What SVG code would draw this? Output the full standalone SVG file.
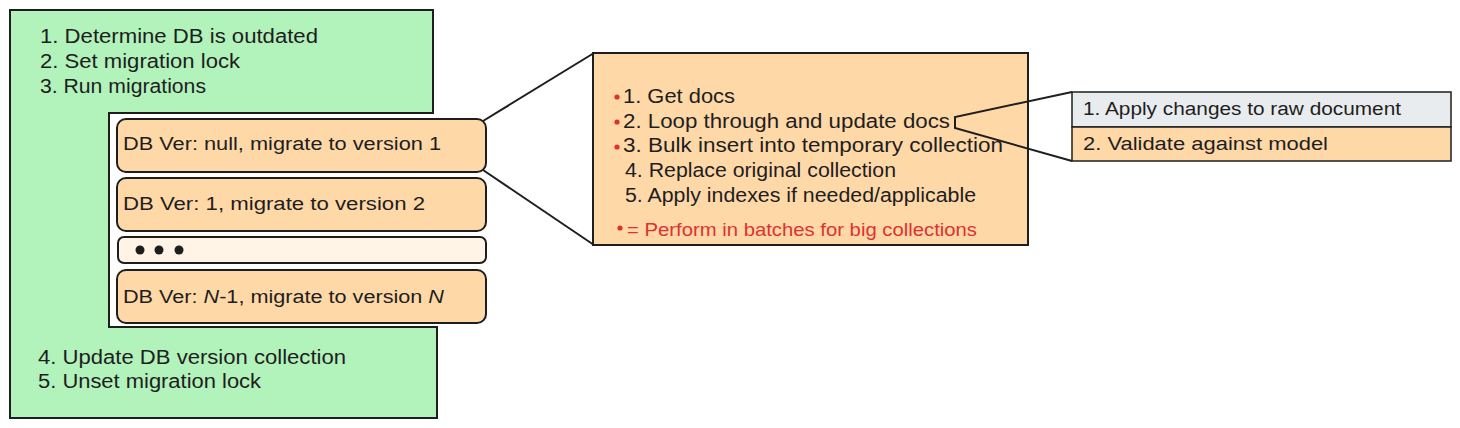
<svg xmlns="http://www.w3.org/2000/svg" width="1460" height="428" viewBox="0 0 1460 428">
<style>
.t{font-family:"Liberation Sans",Arial,sans-serif;font-size:20px;fill:#1e1e1e}
.s{font-size:18px}
.red{font-family:"Liberation Sans",Arial,sans-serif;font-size:19px;fill:#e03131}
.box{fill:#ffd8a8;stroke:#1e1e1e;stroke-width:2}
.ln{fill:none;stroke:#1e1e1e;stroke-width:2}
</style>
<rect width="1460" height="428" fill="#ffffff"/>
<g id="main">
<path d="M10 10 L433 10 L433 113 L109 113 L109 327 L437 327 L437 418 L10 418 Z" fill="#b2f2bb" stroke="#1e1e1e" stroke-width="2"/>
<text class="t" x="40" y="43" textLength="278" lengthAdjust="spacingAndGlyphs">1. Determine DB is outdated</text>
<text class="t" x="40" y="68" textLength="200" lengthAdjust="spacingAndGlyphs">2. Set migration lock</text>
<text class="t" x="40" y="93" textLength="166" lengthAdjust="spacingAndGlyphs">3. Run migrations</text>
<text class="t" x="38" y="364" textLength="308" lengthAdjust="spacingAndGlyphs">4. Update DB version collection</text>
<text class="t" x="38" y="388" textLength="223" lengthAdjust="spacingAndGlyphs">5. Unset migration lock</text>
</g>
<g id="m1">
<rect class="box" x="117" y="119" width="369" height="53" rx="9"/>
<text class="t s" x="123" y="150" textLength="318" lengthAdjust="spacingAndGlyphs">DB Ver: null, migrate to version 1</text>
</g>
<g id="m2">
<rect class="box" x="117" y="178" width="369" height="53" rx="9"/>
<text class="t s" x="123" y="210" textLength="302" lengthAdjust="spacingAndGlyphs">DB Ver: 1, migrate to version 2</text>
</g>
<g id="dots">
<rect x="118" y="237" width="368" height="26" rx="6" fill="#fff4e6" stroke="#1e1e1e" stroke-width="2"/>
<circle cx="140" cy="250" r="4.5" fill="#1e1e1e"/>
<circle cx="159" cy="250" r="4.5" fill="#1e1e1e"/>
<circle cx="179" cy="250" r="4.5" fill="#1e1e1e"/>
</g>
<g id="mN">
<rect class="box" x="117" y="270" width="369" height="53" rx="9"/>
<text class="t s" x="123" y="303" textLength="321" lengthAdjust="spacingAndGlyphs">DB Ver: <tspan font-style="italic">N</tspan>-1, migrate to version <tspan font-style="italic">N</tspan></text>
</g>
<g id="steps">
<rect x="593" y="53" width="435" height="192" fill="#ffd8a8" stroke="#1e1e1e" stroke-width="2"/>
<circle cx="617" cy="97" r="2.6" fill="#e03131"/>
<circle cx="617" cy="122" r="2.6" fill="#e03131"/>
<circle cx="617" cy="147" r="2.6" fill="#e03131"/>
<text class="t" x="623" y="103" textLength="112" lengthAdjust="spacingAndGlyphs">1. Get docs</text>
<text class="t" x="623" y="128" textLength="327" lengthAdjust="spacingAndGlyphs">2. Loop through and update docs</text>
<text class="t" x="623" y="152" textLength="380" lengthAdjust="spacingAndGlyphs">3. Bulk insert into temporary collection</text>
<text class="t" x="625" y="177" textLength="271" lengthAdjust="spacingAndGlyphs">4. Replace original collection</text>
<text class="t" x="625" y="202" textLength="351" lengthAdjust="spacingAndGlyphs">5. Apply indexes if needed/applicable</text>
<circle cx="620" cy="228" r="2.6" fill="#e03131"/>
<text class="red" x="627" y="236" textLength="350" lengthAdjust="spacingAndGlyphs">= Perform in batches for big collections</text>
</g>
<g id="loop">
<rect x="1072" y="92" width="379" height="35" fill="#e9ecef" stroke="#1e1e1e" stroke-width="1.5"/>
<rect x="1072" y="127" width="379" height="34" fill="#ffd8a8" stroke="#1e1e1e" stroke-width="1.5"/>
<text class="t s" x="1083" y="115" textLength="318" lengthAdjust="spacingAndGlyphs">1. Apply changes to raw document</text>
<text class="t s" x="1083" y="150" textLength="245" lengthAdjust="spacingAndGlyphs">2. Validate against model</text>
</g>
<g id="connectors">
<path class="ln" d="M483 121 L594 53"/>
<path class="ln" d="M483 170 L594 245"/>
<path class="ln" d="M1072 92 L955 117 L955 128 L1072 161"/>
</g>
</svg>
